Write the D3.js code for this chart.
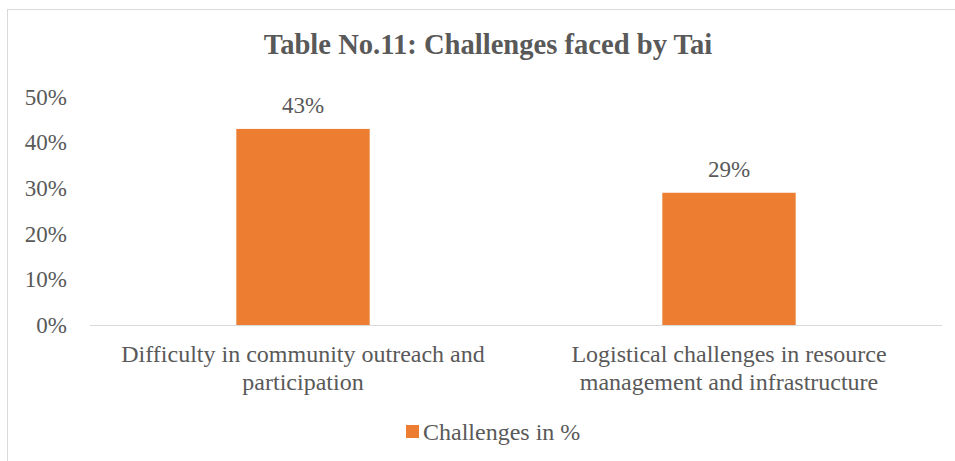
<!DOCTYPE html>
<html>
<head>
<meta charset="utf-8">
<script src="https://cdn.jsdelivr.net/npm/d3@7"></script>
<style>
  html, body { margin: 0; padding: 0; background: #fff; }
  svg { display: block; }
  text { font-family: "Liberation Serif", "Times New Roman", serif; fill: #595959; }
</style>
</head>
<body>
<svg id="chart" width="955" height="461"></svg>
<script>
const categories = [
  ["Difficulty in community outreach and", "participation"],
  ["Logistical challenges in resource", "management and infrastructure"]
];
const values = [0.43, 0.29];
const valueLabels = ["43%", "29%"];
const yTicks = [0, 0.1, 0.2, 0.3, 0.4, 0.5];
const seriesName = "Challenges in %";
const chartTitle = "Table No.11: Challenges faced by Tai";

const svg = d3.select("#chart");
const barColor = "#ED7D31";
const serif = "'Liberation Serif', 'Times New Roman', serif";

// chart area frame
svg.append("rect")
  .attr("x", 7.5).attr("y", 9.5)
  .attr("width", 960).attr("height", 470)
  .attr("fill", "#fff").attr("stroke", "#D9D9D9").attr("stroke-width", 1);

const plot = { left: 90, right: 942, top: 97, bottom: 325 };

const x = d3.scaleBand()
  .domain(d3.range(categories.length))
  .range([plot.left, plot.right])
  .paddingInner(0.687)
  .paddingOuter(0.3435);

const y = d3.scaleLinear().domain([0, 0.5]).range([plot.bottom, plot.top]);

// title
svg.append("text")
  .attr("x", 488).attr("y", 54)
  .attr("text-anchor", "middle")
  .style("font-size", "28.6px").style("font-weight", "bold")
  .text(chartTitle);

// y axis labels
const yAxis = d3.axisLeft(y).tickValues(yTicks).tickFormat(d3.format(".0%")).tickSize(0).tickPadding(0);
const yG = svg.append("g").attr("transform", `translate(67,0)`).call(yAxis);
yG.attr("font-family", serif).attr("font-size", 23);
yG.select(".domain").remove();
yG.selectAll("text")
  .style("font-size", "23px")
  .style("font-family", serif)
  .attr("fill", "#595959")
  .attr("dy", "0.32em");

// bars
svg.selectAll("rect.bar")
  .data(values)
  .join("rect")
  .attr("class", "bar")
  .attr("x", (d, i) => x(i))
  .attr("y", d => y(d))
  .attr("width", x.bandwidth())
  .attr("height", d => y(0) - y(d))
  .attr("fill", barColor);

// baseline
svg.append("line")
  .attr("x1", plot.left).attr("x2", plot.right)
  .attr("y1", plot.bottom + 0.5).attr("y2", plot.bottom + 0.5)
  .attr("stroke", "#D9D9D9").attr("stroke-width", 1);

// value labels
svg.selectAll("text.vlabel")
  .data(values)
  .join("text")
  .attr("class", "vlabel")
  .attr("x", (d, i) => x(i) + x.bandwidth() / 2)
  .attr("y", d => y(d) - 16)
  .attr("text-anchor", "middle")
  .style("font-size", "23px")
  .text((d, i) => valueLabels[i]);

// category labels
const catG = svg.selectAll("text.cat")
  .data(categories)
  .join("text")
  .attr("class", "cat")
  .attr("text-anchor", "middle")
  .style("font-size", "24px");
catG.each(function (lines, i) {
  const t = d3.select(this);
  const cx = x(i) + x.bandwidth() / 2;
  lines.forEach((ln, k) => {
    t.append("tspan").attr("x", cx).attr("y", 362 + k * 28).text(ln);
  });
});

// legend
const legend = svg.append("g");
legend.append("rect")
  .attr("x", 406).attr("y", 425).attr("width", 13).attr("height", 13)
  .attr("fill", barColor);
legend.append("text")
  .attr("x", 423).attr("y", 440)
  .style("font-size", "24px")
  .text(seriesName);
</script>
</body>
</html>
